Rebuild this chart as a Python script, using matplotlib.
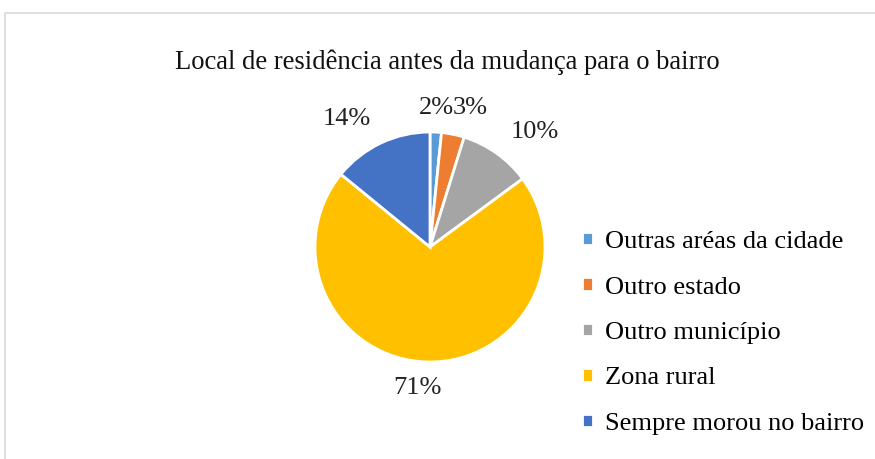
import matplotlib
matplotlib.use("Agg")
import matplotlib.pyplot as plt
from matplotlib.patches import Rectangle
import numpy as np

title = "Local de residência antes da mudança para o bairro"
categories = ["Outras aréas da cidade", "Outro estado", "Outro município", "Zona rural", "Sempre morou no bairro"]
values = [1.6, 3.2, 10.1, 71.0, 14.1]
colors = ["#5B9BD5", "#ED7D31", "#A5A5A5", "#FFC000", "#4472C4"]
label_dist = [1.21, 1.256, 1.35, 1.23, 1.33]
label_shift = [0.3, -4.7, -7.0, -3.6, 7.6]

plt.rcParams['font.family'] = ['Liberation Serif', 'DejaVu Serif']

W, H = 875, 459
fig = plt.figure(figsize=(W / 100, H / 100), dpi=100)
fig.patches.append(Rectangle((5 / W, -0.1), 1.2, (H - 13) / H + 0.1, transform=fig.transFigure,
                             fill=False, edgecolor="#d9d9d9", linewidth=1.2))

cx, cy, r = 430, 247, 115
ax = fig.add_axes([(cx - r) / W, (H - cy - r) / H, 2 * r / W, 2 * r / H])
wedges, _ = ax.pie(values, colors=colors, startangle=90, counterclock=False,
                   wedgeprops=dict(edgecolor="white", linewidth=2))
ax.set_xlim(-1, 1)
ax.set_ylim(-1, 1)
ax.set_aspect("equal")
ax.axis("off")

for w, v, d, s in zip(wedges, values, label_dist, label_shift):
    ang = np.deg2rad((w.theta1 + w.theta2) / 2 + s)
    ax.text(d * np.cos(ang), d * np.sin(ang), f"{v:.0f}%", ha="center", va="center",
            fontsize=19, color="#222222", clip_on=False)

fig.text(447 / W, 1 - 62 / H, title, ha="center", va="center", fontsize=19.2, color="#111111")

fig.legend(wedges, categories, loc="center left", bbox_to_anchor=(582 / W, 1 - 333 / H),
           bbox_transform=fig.transFigure,
           frameon=False, fontsize=19, handlelength=0.42, handleheight=0.42, handletextpad=0.45,
           labelspacing=0.89, borderaxespad=0, borderpad=0)

fig.savefig("out.png", dpi=100)
